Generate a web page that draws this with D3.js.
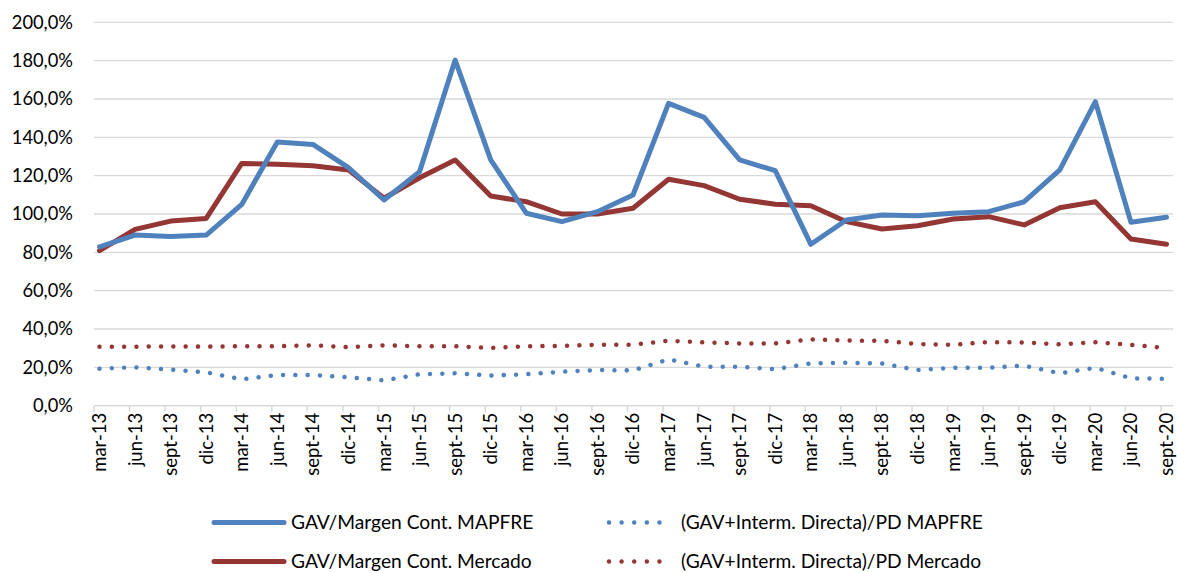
<!DOCTYPE html>
<html>
<head>
<meta charset="utf-8">
<script src="https://cdn.jsdelivr.net/npm/d3@7"></script>
<style>
  body { margin: 0; background: #fff; }
  text { font-family: Lato, "Open Sans", sans-serif; fill: #000; }
</style>
</head>
<body>
<script>
let categories = ['mar-13', 'jun-13', 'sept-13', 'dic-13', 'mar-14', 'jun-14', 'sept-14', 'dic-14',
    'mar-15', 'jun-15', 'sept-15', 'dic-15', 'mar-16', 'jun-16', 'sept-16', 'dic-16',
    'mar-17', 'jun-17', 'sept-17', 'dic-17', 'mar-18', 'jun-18', 'sept-18', 'dic-18',
    'mar-19', 'jun-19', 'sept-19', 'dic-19', 'mar-20', 'jun-20', 'sept-20']

let margenMapfre = [82.9, 89.0, 88.2, 89.0, 105.0, 137.6, 136.3, 124.2, 107.3, 122.1, 180.3,
    128.2, 100.4, 96.0, 101.2, 109.9, 157.7, 150.4, 128.2, 122.6, 84.2,
    96.9, 99.5, 99.1, 100.4, 101.2, 106.4, 123.0, 158.6, 95.7, 98.3]
let margenMercado = [80.9, 92.0, 96.3, 97.7, 126.4, 125.9, 125.2, 123.0, 108.2, 118.9, 128.2,
    109.4, 106.4, 100.0, 100.0, 103.0, 118.1, 114.8, 107.7, 105.1, 104.3,
    96.0, 92.2, 93.9, 97.4, 98.6, 94.3, 103.3, 106.4, 87.0, 84.2]
let pdMapfre = [19.3, 20.0, 18.8, 17.4, 13.8, 16.0, 16.0, 14.8, 13.2, 16.4, 16.9,
    15.7, 16.4, 17.7, 18.6, 18.4, 24.2, 20.3, 20.3, 19.0, 22.1,
    22.4, 22.0, 18.6, 19.8, 19.8, 20.9, 16.9, 19.8, 14.3, 14.0]
let pdMercado = [30.8, 30.8, 30.9, 30.8, 31.0, 31.0, 31.5, 30.5, 31.5, 31.0, 31.0,
    30.1, 31.0, 31.2, 31.8, 31.8, 33.9, 33.0, 32.5, 32.5, 34.6,
    34.0, 33.8, 32.2, 31.7, 33.2, 33.0, 32.0, 33.1, 31.7, 30.1]

let yTicks = [0, 20, 40, 60, 80, 100, 120, 140, 160, 180, 200]

let blue = '#4f81bd'
let red = '#943634'

let series = [
    { name: 'GAV/Margen Cont. MAPFRE', values: margenMapfre, color: blue, dotted: false },
    { name: 'GAV/Margen Cont. Mercado', values: margenMercado, color: red, dotted: false },
    { name: '(GAV+Interm. Directa)/PD MAPFRE', values: pdMapfre, color: blue, dotted: true },
    { name: '(GAV+Interm. Directa)/PD Mercado', values: pdMercado, color: red, dotted: true }
]

let svgWidth = 1177, svgHeight = 573
let plotLeft = 94, plotRight = 1173
let plotTop = 22.3, plotBottom = 405.7

let svg = d3.select('body').append('svg')
    .attr('width', svgWidth)
    .attr('height', svgHeight)

let x = d3.scalePoint()
    .domain(categories)
    .range([99.5, 1166.5])

let y = d3.scaleLinear()
    .domain([0, 200])
    .range([plotBottom, plotTop])

// gridlines
svg.append('g')
    .selectAll('line')
    .data(yTicks.slice(1))
    .enter()
    .append('line')
    .attr('x1', plotLeft)
    .attr('x2', plotRight)
    .attr('y1', d => y(d))
    .attr('y2', d => y(d))
    .attr('stroke', '#d9d9d9')
    .attr('stroke-width', 1.3)

// y labels
svg.append('g')
    .selectAll('text')
    .data(yTicks)
    .enter()
    .append('text')
    .attr('x', 73)
    .attr('y', d => y(d))
    .attr('dy', '0.35em')
    .attr('text-anchor', 'end')
    .style('font-size', '18.3px')
    .text(d => d.toFixed(1).replace('.', ',') + '%')

// x axis
let xAxis = svg.append('g')
xAxis.append('line')
    .attr('x1', plotLeft)
    .attr('x2', plotRight)
    .attr('y1', plotBottom)
    .attr('y2', plotBottom)
    .attr('stroke', '#d9d9d9')
    .attr('stroke-width', 1.5)
xAxis.selectAll('.tick')
    .data(categories)
    .enter()
    .append('line')
    .attr('x1', d => x(d) - 5.5)
    .attr('x2', d => x(d) - 5.5)
    .attr('y1', plotBottom)
    .attr('y2', plotBottom + 6)
    .attr('stroke', '#d9d9d9')
    .attr('stroke-width', 1.5)
xAxis.selectAll('text')
    .data(categories)
    .enter()
    .append('text')
    .attr('transform', d => `translate(${x(d)},${plotBottom + 7}) rotate(-90)`)
    .attr('text-anchor', 'end')
    .attr('dy', '0.35em')
    .style('font-size', '18.5px')
    .text(d => d)

// lines
let line = d3.line()
    .x((d, i) => x(categories[i]))
    .y(d => y(d))

svg.append('g')
    .selectAll('path')
    .data(series.slice().reverse())
    .enter()
    .append('path')
    .attr('d', d => line(d.values))
    .attr('fill', 'none')
    .attr('stroke', d => d.color)
    .attr('stroke-width', d => d.dotted ? 4.5 : 5)
    .attr('stroke-linecap', 'round')
    .attr('stroke-linejoin', 'round')
    .attr('stroke-dasharray', d => d.dotted ? '0.01 12.3' : null)

// legend: solid series in the left column, dotted in the right
let legendPos = [[213, 522.5], [213, 561.5], [608, 522.5], [608, 561.5]]
let legend = svg.append('g')
    .selectAll('g')
    .data(series)
    .enter()
    .append('g')
    .attr('transform', (d, i) => `translate(${legendPos[i][0]},${legendPos[i][1]})`)
legend.append('line')
    .attr('x1', 1)
    .attr('x2', d => d.dotted ? 64 : 71)
    .attr('stroke', d => d.color)
    .attr('stroke-width', d => d.dotted ? 4.5 : 5)
    .attr('stroke-linecap', 'round')
    .attr('stroke-dasharray', d => d.dotted ? '0.01 12.6' : null)
legend.append('text')
    .attr('x', d => d.dotted ? 73 : 78)
    .attr('dy', '0.35em')
    .style('font-size', '19.2px')
    .text(d => d.name)
</script>
</body>
</html>
